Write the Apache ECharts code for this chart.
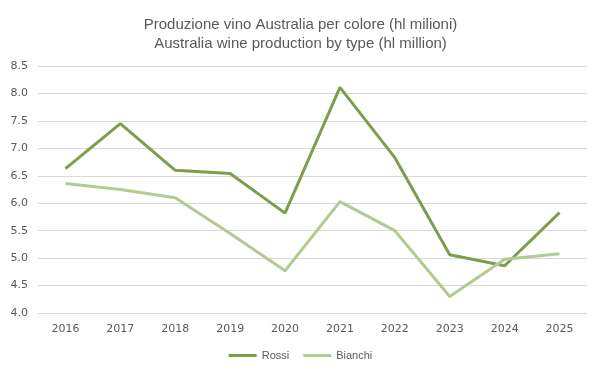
<!DOCTYPE html>
<html><head><meta charset="utf-8">
<script src="https://cdn.jsdelivr.net/npm/echarts@6/dist/echarts.min.js"></script>
<style>html,body{margin:0;padding:0;background:#fff}#c{width:601px;height:378px}</style>
</head><body><div id="c"></div>
<script>
const categories = ['2016','2017','2018','2019','2020','2021','2022','2023','2024','2025'];
const rossi = [6.63, 7.45, 6.60, 6.54, 5.82, 8.11, 6.83, 5.06, 4.86, 5.83];
const bianchi = [6.36, 6.25, 6.10, 5.45, 4.77, 6.03, 5.50, 4.30, 4.98, 5.08];
const titleLines = ['Produzione vino Australia per colore (hl milioni)', 'Australia wine production by type (hl million)'];

const chart = echarts.init(document.getElementById('c'));
chart.setOption({
  animation: false,
  title: {
    text: titleLines.join('\n'),
    left: 'center', top: 10,
    textStyle: { fontFamily: 'Liberation Sans Narrow, Liberation Sans', fontWeight: 'normal', fontSize: 15, color: '#595959', lineHeight: 19 }
  },
  legend: {
    bottom: 12, left: 'center', itemWidth: 28, itemHeight: 3, itemGap: 14,
    icon: 'rect',
    textStyle: { fontFamily: 'Liberation Sans', fontSize: 11, color: '#595959' },
    data: ['Rossi', 'Bianchi']
  },
  grid: { left: 38, right: 14, top: 66, bottom: 65 },
  xAxis: {
    type: 'category', data: categories, boundaryGap: true,
    axisLine: { show: false }, axisTick: { show: false },
    axisLabel: { fontFamily: 'DejaVu Sans', fontSize: 11, color: '#595959', margin: 11 }
  },
  yAxis: {
    type: 'value', min: 4, max: 8.5, interval: 0.5,
    axisLine: { show: false }, axisTick: { show: false },
    axisLabel: { fontFamily: 'DejaVu Sans', fontSize: 11, color: '#595959', margin: 10, formatter: v => v.toFixed(1) },
    splitLine: { lineStyle: { color: '#d9d9d9', width: 1 } }
  },
  series: [
    { name: 'Rossi', type: 'line', data: rossi, symbol: 'none', lineStyle: { color: '#7e9d4d', width: 3 }, itemStyle: { color: '#7e9d4d' } },
    { name: 'Bianchi', type: 'line', data: bianchi, symbol: 'none', lineStyle: { color: '#b3ca90', width: 3 }, itemStyle: { color: '#b3ca90' } }
  ]
});
</script></body></html>
